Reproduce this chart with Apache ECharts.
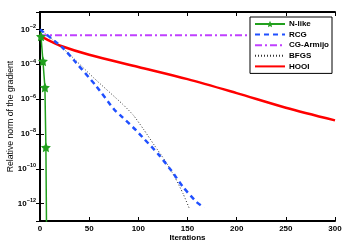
<!DOCTYPE html>
<html><head><meta charset="utf-8">
<script src="https://cdn.jsdelivr.net/npm/echarts@6/dist/echarts.min.js"></script>
<style>html,body{margin:0;padding:0;background:#fff}#c{width:343px;height:245px}</style>
</head><body><div id="c"></div>
<script>
// ---- data ----
const xTicks = [0, 50, 100, 150, 200, 250, 300];
const yTickExps = [-12, -10, -8, -6, -4, -2];
const nlikeIter = [1, 3, 5, 6, 7];
const nlikeVal  = [4.0e-3, 1.5e-4, 4.7e-6, 1.7e-9, 1e-16];
const rcgIter = [0, 23, 36.5, 57, 75.6, 84, 98, 106, 120, 133.5, 145.5, 159, 167];
const rcgVal  = [1.0e-2, 8.9e-4, 1.26e-4, 5.75e-6, 2.45e-7, 8.9e-8, 1.55e-8, 5.1e-9, 7.2e-10, 7.9e-11, 8.9e-12, 1.26e-12, 5.9e-13];
const armIter = [0, 300];
const armVal  = [4.6e-3, 4.6e-3];
const bfgsIter = [0, 11, 28, 55, 84, 95, 105, 116.5, 127, 137, 145.5, 152];
const bfgsVal  = [1.0e-2, 3.2e-3, 4.7e-4, 1.58e-5, 5.1e-7, 1.17e-7, 1.95e-8, 2.14e-9, 3.0e-10, 3.4e-11, 3.7e-12, 5.0e-13];
const hooiIter = [0, 10, 20, 50, 100, 150, 200, 250, 300];
const hooiVal  = [4.3e-3, 2.2e-3, 1.2e-3, 3.5e-4, 7.0e-5, 1.4e-5, 2.2e-6, 3.2e-7, 6.0e-8];
const legendNames = ['N-like', 'RCG', 'CG-Armijo', 'BFGS', 'HOOI'];

const zip = (a, b) => a.map((v, i) => [v, b[i]]);
const star = 'path://M0,-10L2.9,-4L9.5,-3.1L4.7,1.5L5.9,8.1L0,5L-5.9,8.1L-4.7,1.5L-9.5,-3.1L-2.9,-4Z';
const FONT = 'Liberation Sans';

const chart = echarts.init(document.getElementById('c'), null, {renderer: 'canvas'});
const yLabelFmt = v => {
  const e = Math.round(Math.log10(v));
  if (yTickExps.indexOf(e) < 0) return '';
  return '{b|10}{s|\u2212' + Math.abs(e) + '}';
};
const axLine = {show: true, lineStyle: {color: '#000', width: 2}};
const tickStyle = {show: true, inside: true, length: 4, lineStyle: {color: '#000', width: 1}};
const hiddenMark = {color: 'rgba(0,0,0,0)', borderWidth: 0, borderColor: 'rgba(0,0,0,0)'};

chart.setOption({
  animation: false,
  backgroundColor: '#fff',
  grid: {left: 40, right: 8, top: 12, bottom: 24, containLabel: false, outerBoundsMode: 'none'},
  legend: {
    orient: 'vertical', right: 11, top: 17,
    backgroundColor: '#fff', borderColor: '#000', borderWidth: 1,
    padding: [3, 3, 3, 4], itemGap: 2.6, itemWidth: 30, itemHeight: 8,
    textStyle: {fontFamily: FONT, fontSize: 8, fontWeight: 'bold', color: '#000', padding: [0, 0, 0, -1]},
    data: legendNames.map(n => n === 'N-like' ? {name: n} : {name: n, itemStyle: hiddenMark})
  },
  xAxis: [{
    type: 'value', min: 0, max: 300, interval: 50,
    name: 'Iterations', nameLocation: 'middle', nameGap: 13, nameMoveOverlap: false,
    nameTextStyle: {fontFamily: FONT, fontSize: 8, fontWeight: 'bold', color: '#000'},
    axisLine: axLine, axisTick: tickStyle,
    axisLabel: {fontFamily: FONT, fontSize: 8, fontWeight: 'bold', color: '#000', margin: 4},
    splitLine: {show: false}
  }, {
    type: 'value', min: 0, max: 300, interval: 50, position: 'top',
    axisLine: axLine, axisTick: tickStyle,
    axisLabel: {show: false}, splitLine: {show: false}
  }],
  yAxis: [{
    type: 'log', logBase: 100, min: 1e-13, max: 1e-1,
    name: 'Relative norm of the gradient', nameLocation: 'middle', nameGap: 25, nameMoveOverlap: false,
    nameTextStyle: {fontFamily: FONT, fontSize: 8.7, color: '#000'},
    axisLine: axLine, axisTick: tickStyle,
    axisLabel: {
      formatter: yLabelFmt, margin: 4, showMinLabel: false, showMaxLabel: false,
      rich: {
        b: {fontFamily: FONT, fontSize: 8, fontWeight: 'bold', color: '#000'},
        s: {fontFamily: FONT, fontSize: 5.5, fontWeight: 'bold', color: '#000', padding: [0, 0, 6, 0]}
      }
    },
    splitLine: {show: false}
  }, {
    type: 'log', logBase: 100, min: 1e-13, max: 1e-1, position: 'right',
    axisLine: axLine, axisTick: tickStyle,
    axisLabel: {show: false}, splitLine: {show: false}
  }],
  series: [
    {name: 'HOOI', type: 'line', data: zip(hooiIter, hooiVal), smooth: 0.3, symbol: 'none', z: 2,
     lineStyle: {color: '#ff0000', width: 2.5}, itemStyle: {color: '#ff0000'}},
    {name: 'BFGS', type: 'line', data: zip(bfgsIter, bfgsVal), smooth: 0.2, symbol: 'none', z: 3,
     lineStyle: {color: '#333', width: 1, type: [1, 2]}, itemStyle: {color: '#333'}},
    {name: 'CG-Armijo', type: 'line', data: zip(armIter, armVal), symbol: 'none', z: 3,
     lineStyle: {color: '#c040ff', width: 2, type: [7, 3, 2, 3]}, itemStyle: {color: '#c040ff'}},
    {name: 'RCG', type: 'line', data: zip(rcgIter, rcgVal), smooth: 0.2, symbol: 'none', z: 4,
     lineStyle: {color: '#2050ff', width: 2.5, type: [5, 4]}, itemStyle: {color: '#2050ff'}},
    {name: 'N-like', type: 'line', data: zip(nlikeIter, nlikeVal), symbol: star, symbolSize: 10, z: 5,
     lineStyle: {color: '#22a01e', width: 1.5}, itemStyle: {color: '#22a01e'}}
  ]
});
</script></body></html>
